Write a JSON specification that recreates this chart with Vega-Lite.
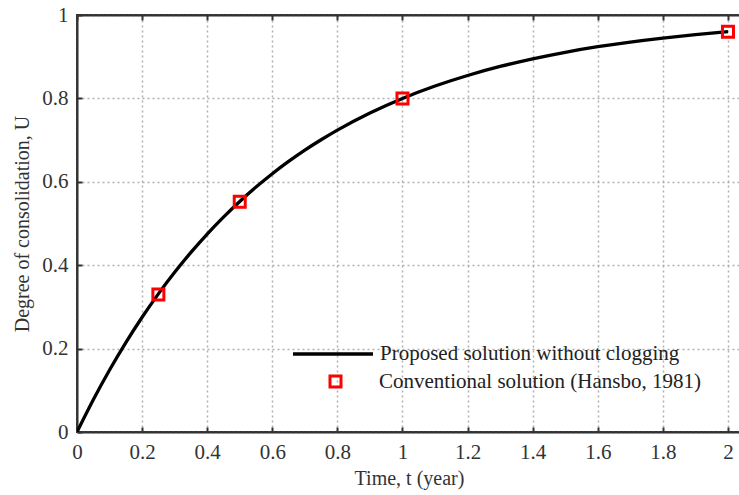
{
  "$schema": "https://vega.github.io/schema/vega-lite/v6.json",
  "width": 664,
  "height": 417,
  "autosize": {"type": "none"},
  "padding": {"left": 77, "top": 15, "right": 0, "bottom": 63},
  "background": "white",
  "config": {
    "view": {"stroke": "#333", "strokeWidth": 2},
    "font": "Liberation Serif",
    "axis": {
      "labelFont": "Liberation Serif",
      "titleFont": "Liberation Serif",
      "labelFontSize": 21,
      "titleFontSize": 20,
      "titleFontWeight": "normal",
      "labelColor": "#333",
      "titleColor": "#333",
      "domainColor": "#333",
      "domainWidth": 2,
      "tickColor": "#333",
      "tickWidth": 2,
      "gridColor": "#b0b0b0",
      "gridDash": [2, 3],
      "gridWidth": 1.5
    }
  },
  "resolve": {"axis": {"x": "independent"}},
  "datasets": {
    "curve": [
      {"t": 0, "U": 0, "name": "Proposed solution without clogging"},
      {"t": 0.05, "U": 0.0773, "name": "Proposed solution without clogging"},
      {"t": 0.1, "U": 0.1487, "name": "Proposed solution without clogging"},
      {"t": 0.15, "U": 0.2145, "name": "Proposed solution without clogging"},
      {"t": 0.2, "U": 0.2752, "name": "Proposed solution without clogging"},
      {"t": 0.25, "U": 0.3313, "name": "Proposed solution without clogging"},
      {"t": 0.3, "U": 0.383, "name": "Proposed solution without clogging"},
      {"t": 0.35, "U": 0.4307, "name": "Proposed solution without clogging"},
      {"t": 0.4, "U": 0.4747, "name": "Proposed solution without clogging"},
      {"t": 0.45, "U": 0.5153, "name": "Proposed solution without clogging"},
      {"t": 0.5, "U": 0.5528, "name": "Proposed solution without clogging"},
      {"t": 0.55, "U": 0.5873, "name": "Proposed solution without clogging"},
      {"t": 0.6, "U": 0.6193, "name": "Proposed solution without clogging"},
      {"t": 0.65, "U": 0.6488, "name": "Proposed solution without clogging"},
      {"t": 0.7, "U": 0.6759, "name": "Proposed solution without clogging"},
      {"t": 0.75, "U": 0.7008, "name": "Proposed solution without clogging"},
      {"t": 0.8, "U": 0.724, "name": "Proposed solution without clogging"},
      {"t": 0.9, "U": 0.7651, "name": "Proposed solution without clogging"},
      {"t": 1.0, "U": 0.8, "name": "Proposed solution without clogging"},
      {"t": 1.1, "U": 0.8297, "name": "Proposed solution without clogging"},
      {"t": 1.2, "U": 0.855, "name": "Proposed solution without clogging"},
      {"t": 1.3, "U": 0.8766, "name": "Proposed solution without clogging"},
      {"t": 1.4, "U": 0.8949, "name": "Proposed solution without clogging"},
      {"t": 1.5, "U": 0.9106, "name": "Proposed solution without clogging"},
      {"t": 1.6, "U": 0.9239, "name": "Proposed solution without clogging"},
      {"t": 1.7, "U": 0.9352, "name": "Proposed solution without clogging"},
      {"t": 1.8, "U": 0.9448, "name": "Proposed solution without clogging"},
      {"t": 1.9, "U": 0.953, "name": "Proposed solution without clogging"},
      {"t": 2.0, "U": 0.96, "name": "Proposed solution without clogging"}
    ],
    "points": [
      {"t": 0.25, "U": 0.33, "kind": "Conventional solution (Hansbo, 1981)"},
      {"t": 0.5, "U": 0.552, "kind": "Conventional solution (Hansbo, 1981)"},
      {"t": 1.0, "U": 0.8, "kind": "Conventional solution (Hansbo, 1981)"},
      {"t": 2.0, "U": 0.96, "kind": "Conventional solution (Hansbo, 1981)"}
    ]
  },
  "layer": [
    {
      "data": {"name": "curve"},
      "mark": {"type": "line", "strokeWidth": 3.3, "clip": true, "interpolate": "monotone"},
      "encoding": {
        "x": {
          "field": "t", "type": "quantitative",
          "scale": {"domain": [0, 2.04], "nice": false, "zero": false},
          "axis": {
            "title": "Time, t (year)",
            "values": [0, 0.2, 0.4, 0.6, 0.8, 1, 1.2, 1.4, 1.6, 1.8, 2],
            "labelExpr": "datum.value == 0 ? '0' : format(datum.value, '.1~f')",
            "tickSize": -5,
            "labelPadding": 14,
            "titlePadding": 6,
            "labelFlush": false
          }
        },
        "y": {
          "field": "U", "type": "quantitative",
          "scale": {"domain": [0, 1], "nice": false},
          "axis": {
            "title": "Degree of consolidation, U",
            "values": [0, 0.2, 0.4, 0.6, 0.8, 1],
            "labelExpr": "format(datum.value, '.1~f')",
            "tickSize": -5,
            "labelPadding": 14,
            "titlePadding": 9,
            "labelFlush": false
          }
        },
        "color": {
          "field": "name", "type": "nominal",
          "scale": {"domain": ["Proposed solution without clogging"], "range": ["black"]},
          "legend": {
            "title": null,
            "orient": "none",
            "legendX": 214,
            "legendY": 297,
            "padding": 0,
            "symbolType": "M-1,0H1",
            "symbolSize": 6400,
            "symbolStrokeWidth": 3.3,
            "symbolStrokeColor": "black",
            "labelFont": "Liberation Serif",
            "labelFontSize": 21,
            "labelColor": "#222",
            "labelOffset": 5,
            "labelLimit": 500
          }
        }
      }
    },
    {
      "data": {"name": "points"},
      "mark": {"type": "point", "shape": "square", "filled": false, "color": "#ff0000", "strokeWidth": 3, "size": 121, "opacity": 1},
      "encoding": {
        "x": {"field": "t", "type": "quantitative", "axis": null},
        "y": {"field": "U", "type": "quantitative"},
        "shape": {
          "field": "kind", "type": "nominal",
          "scale": {"domain": ["Conventional solution (Hansbo, 1981)"], "range": ["square"]},
          "legend": {
            "title": null,
            "orient": "none",
            "legendX": 248,
            "legendY": 356,
            "padding": 0,
            "symbolSize": 121,
            "symbolStrokeWidth": 3,
            "symbolStrokeColor": "#ff0000",
            "symbolFillColor": "transparent",
            "symbolOpacity": 1,
            "labelFont": "Liberation Serif",
            "labelFontSize": 21,
            "labelColor": "#222",
            "labelOffset": 33,
            "labelLimit": 500
          }
        }
      }
    },
    {
      "data": {"name": "points"},
      "mark": {"type": "point", "opacity": 0},
      "encoding": {
        "x": {
          "field": "t", "type": "quantitative",
          "axis": {
            "orient": "top",
            "title": null,
            "labels": false,
            "labelOpacity": 0,
            "grid": false,
            "values": [0, 0.2, 0.4, 0.6, 0.8, 1, 1.2, 1.4, 1.6, 1.8, 2],
            "tickSize": -5
          }
        }
      }
    }
  ]
}
